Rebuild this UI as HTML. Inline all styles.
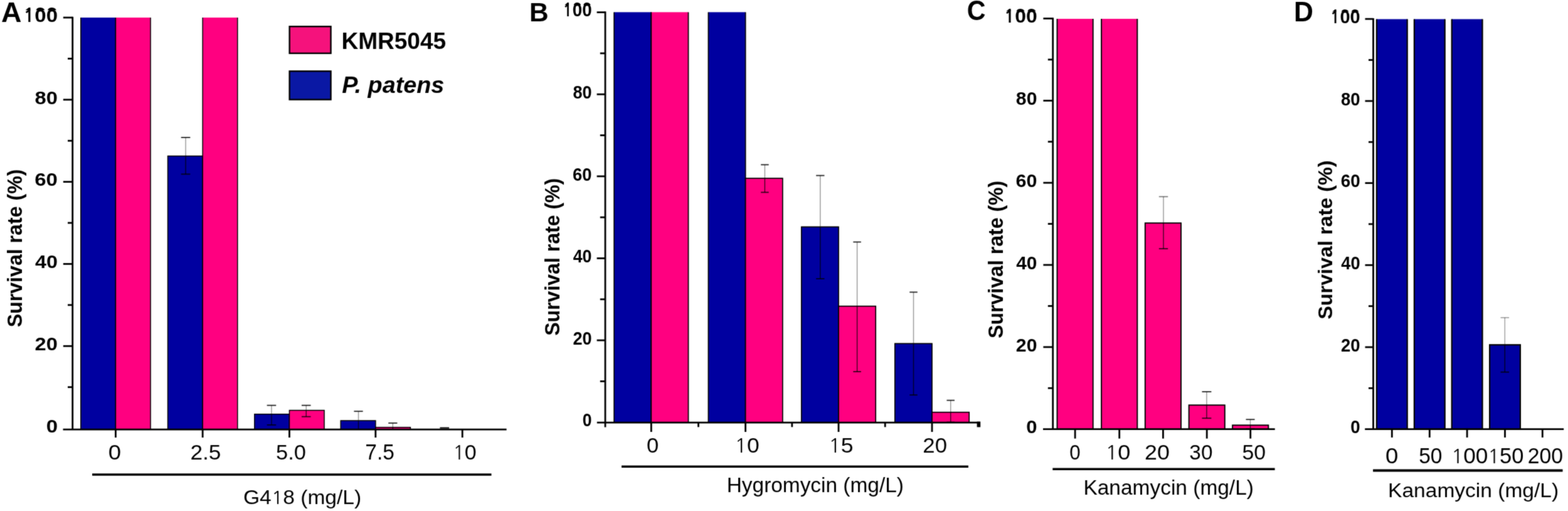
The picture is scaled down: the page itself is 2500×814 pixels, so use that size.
<!DOCTYPE html>
<html><head><meta charset="utf-8"><title>Survival rate bar charts</title>
<style>html,body{margin:0;padding:0;background:#fff;} svg{display:block;} text{font-family:"Liberation Sans",Arial,sans-serif;fill:#000;}</style>
</head><body>
<svg width="2500" height="814" viewBox="0 0 2500 814">
<defs><filter id="soft" x="0" y="0" width="2500" height="814" filterUnits="userSpaceOnUse" color-interpolation-filters="sRGB"><feConvolveMatrix order="3" kernelMatrix="0.03 0.1 0.03 0.1 0.48 0.1 0.03 0.1 0.03" divisor="1" edgeMode="duplicate"/></filter></defs>
<rect x="0" y="0" width="2500" height="814" fill="#fff"/>
<g filter="url(#soft)">
<rect x="0" y="0" width="2500" height="814" fill="#fff"/>
<rect x="128.80" y="28.00" width="55.60" height="656.20" fill="#0000a0"/>
<path d="M128.80 28.00V684.20H184.40V28.00" fill="none" stroke="#000" stroke-width="1.5"/>
<rect x="184.40" y="28.00" width="55.60" height="656.20" fill="#ff0080"/>
<path d="M184.40 28.00V684.20H240.00V28.00" fill="none" stroke="#000" stroke-width="1.5"/>
<rect x="267.50" y="248.50" width="55.60" height="435.70" fill="#0000a0" stroke="#000" stroke-width="1.5"/>
<rect x="323.10" y="28.00" width="55.60" height="656.20" fill="#ff0080"/>
<path d="M323.10 28.00V684.20H378.70V28.00" fill="none" stroke="#000" stroke-width="1.5"/>
<rect x="405.80" y="659.70" width="55.60" height="24.50" fill="#0000a0" stroke="#000" stroke-width="1.5"/>
<rect x="461.40" y="653.60" width="55.60" height="30.60" fill="#ff0080" stroke="#000" stroke-width="1.5"/>
<rect x="543.20" y="670.00" width="55.60" height="14.20" fill="#0000a0" stroke="#000" stroke-width="1.5"/>
<rect x="598.80" y="680.70" width="55.60" height="3.50" fill="#ff0080" stroke="#000" stroke-width="1.5"/>
<line x1="115.70" y1="26.70" x2="115.70" y2="684.20" stroke="#000" stroke-width="2.8" stroke-linecap="butt"/>
<line x1="108.00" y1="616.69" x2="115.70" y2="616.69" stroke="#000" stroke-width="2.8" stroke-linecap="butt"/>
<line x1="100.80" y1="551.28" x2="115.70" y2="551.28" stroke="#000" stroke-width="2.8" stroke-linecap="butt"/>
<line x1="108.00" y1="485.87" x2="115.70" y2="485.87" stroke="#000" stroke-width="2.8" stroke-linecap="butt"/>
<line x1="100.80" y1="420.46" x2="115.70" y2="420.46" stroke="#000" stroke-width="2.8" stroke-linecap="butt"/>
<line x1="108.00" y1="355.05" x2="115.70" y2="355.05" stroke="#000" stroke-width="2.8" stroke-linecap="butt"/>
<line x1="100.80" y1="289.64" x2="115.70" y2="289.64" stroke="#000" stroke-width="2.8" stroke-linecap="butt"/>
<line x1="108.00" y1="224.23" x2="115.70" y2="224.23" stroke="#000" stroke-width="2.8" stroke-linecap="butt"/>
<line x1="100.80" y1="158.82" x2="115.70" y2="158.82" stroke="#000" stroke-width="2.8" stroke-linecap="butt"/>
<line x1="108.00" y1="93.41" x2="115.70" y2="93.41" stroke="#000" stroke-width="2.8" stroke-linecap="butt"/>
<line x1="100.80" y1="28.00" x2="115.70" y2="28.00" stroke="#000" stroke-width="2.8" stroke-linecap="butt"/>
<line x1="100.50" y1="684.20" x2="807.60" y2="684.20" stroke="#000" stroke-width="2.8" stroke-linecap="butt"/>
<line x1="184.40" y1="684.20" x2="184.40" y2="697.00" stroke="#000" stroke-width="2.8" stroke-linecap="butt"/>
<line x1="323.10" y1="684.20" x2="323.10" y2="697.00" stroke="#000" stroke-width="2.8" stroke-linecap="butt"/>
<line x1="461.40" y1="684.20" x2="461.40" y2="697.00" stroke="#000" stroke-width="2.8" stroke-linecap="butt"/>
<line x1="598.80" y1="684.20" x2="598.80" y2="697.00" stroke="#000" stroke-width="2.8" stroke-linecap="butt"/>
<line x1="737.20" y1="684.20" x2="737.20" y2="697.00" stroke="#000" stroke-width="2.8" stroke-linecap="butt"/>
<line x1="296.00" y1="219.00" x2="296.00" y2="248.50" stroke="#000" stroke-width="1.4" stroke-linecap="butt" stroke-opacity="0.42"/>
<line x1="296.00" y1="248.50" x2="296.00" y2="277.40" stroke="#000" stroke-width="1.4" stroke-linecap="butt" stroke-opacity="0.75"/>
<line x1="288.70" y1="219.00" x2="303.30" y2="219.00" stroke="#000" stroke-width="1.8" stroke-linecap="butt" stroke-opacity="0.85"/>
<line x1="288.70" y1="277.40" x2="303.30" y2="277.40" stroke="#000" stroke-width="1.8" stroke-linecap="butt" stroke-opacity="0.8"/>
<line x1="432.90" y1="645.70" x2="432.90" y2="659.70" stroke="#000" stroke-width="1.4" stroke-linecap="butt" stroke-opacity="0.42"/>
<line x1="432.90" y1="659.70" x2="432.90" y2="676.90" stroke="#000" stroke-width="1.4" stroke-linecap="butt" stroke-opacity="0.75"/>
<line x1="425.60" y1="645.70" x2="440.20" y2="645.70" stroke="#000" stroke-width="1.8" stroke-linecap="butt" stroke-opacity="0.85"/>
<line x1="425.60" y1="676.90" x2="440.20" y2="676.90" stroke="#000" stroke-width="1.8" stroke-linecap="butt" stroke-opacity="0.8"/>
<line x1="488.20" y1="645.70" x2="488.20" y2="653.60" stroke="#000" stroke-width="1.4" stroke-linecap="butt" stroke-opacity="0.42"/>
<line x1="488.20" y1="653.60" x2="488.20" y2="663.70" stroke="#000" stroke-width="1.4" stroke-linecap="butt" stroke-opacity="0.75"/>
<line x1="480.90" y1="645.70" x2="495.50" y2="645.70" stroke="#000" stroke-width="1.8" stroke-linecap="butt" stroke-opacity="0.85"/>
<line x1="480.90" y1="663.70" x2="495.50" y2="663.70" stroke="#000" stroke-width="1.8" stroke-linecap="butt" stroke-opacity="0.8"/>
<line x1="571.50" y1="655.20" x2="571.50" y2="670.00" stroke="#000" stroke-width="1.4" stroke-linecap="butt" stroke-opacity="0.42"/>
<line x1="571.50" y1="670.00" x2="571.50" y2="684.00" stroke="#000" stroke-width="1.4" stroke-linecap="butt" stroke-opacity="0.75"/>
<line x1="564.40" y1="655.20" x2="578.60" y2="655.20" stroke="#000" stroke-width="1.8" stroke-linecap="butt" stroke-opacity="0.85"/>
<line x1="564.40" y1="684.00" x2="578.60" y2="684.00" stroke="#000" stroke-width="1.8" stroke-linecap="butt" stroke-opacity="0.8"/>
<line x1="626.30" y1="673.90" x2="626.30" y2="680.70" stroke="#000" stroke-width="1.4" stroke-linecap="butt" stroke-opacity="0.42"/>
<line x1="626.30" y1="680.70" x2="626.30" y2="684.00" stroke="#000" stroke-width="1.4" stroke-linecap="butt" stroke-opacity="0.75"/>
<line x1="619.20" y1="673.90" x2="633.40" y2="673.90" stroke="#000" stroke-width="1.8" stroke-linecap="butt" stroke-opacity="0.85"/>
<line x1="619.20" y1="684.00" x2="633.40" y2="684.00" stroke="#000" stroke-width="1.8" stroke-linecap="butt" stroke-opacity="0.8"/>
<line x1="701.40" y1="681.60" x2="716.10" y2="681.60" stroke="#000" stroke-width="2.0" stroke-linecap="butt"/>
<rect x="461.60" y="42.20" width="65.90" height="42.70" fill="#f5127c" stroke="#000" stroke-width="2.4"/>
<rect x="461.60" y="113.40" width="65.90" height="45.20" fill="#0a18a4" stroke="#000" stroke-width="2.4"/>
<line x1="147.00" y1="756.00" x2="783.50" y2="756.00" stroke="#000" stroke-width="3.6" stroke-linecap="butt"/>
<rect x="979.10" y="19.40" width="59.20" height="653.70" fill="#0000a0"/>
<path d="M979.10 19.40V673.10H1038.30V19.40" fill="none" stroke="#000" stroke-width="1.7"/>
<rect x="1038.30" y="19.40" width="59.20" height="653.70" fill="#ff0080"/>
<path d="M1038.30 19.40V673.10H1097.50V19.40" fill="none" stroke="#000" stroke-width="1.7"/>
<rect x="1129.40" y="19.40" width="59.20" height="653.70" fill="#0000a0"/>
<path d="M1129.40 19.40V673.10H1188.60V19.40" fill="none" stroke="#000" stroke-width="1.7"/>
<rect x="1188.60" y="284.00" width="59.20" height="389.10" fill="#ff0080" stroke="#000" stroke-width="1.7"/>
<rect x="1277.80" y="361.40" width="59.20" height="311.70" fill="#0000a0" stroke="#000" stroke-width="1.7"/>
<rect x="1337.00" y="487.70" width="59.20" height="185.40" fill="#ff0080" stroke="#000" stroke-width="1.7"/>
<rect x="1426.80" y="547.30" width="59.20" height="125.80" fill="#0000a0" stroke="#000" stroke-width="1.7"/>
<rect x="1486.00" y="656.70" width="59.20" height="16.40" fill="#ff0080" stroke="#000" stroke-width="1.7"/>
<line x1="965.00" y1="18.30" x2="965.00" y2="680.60" stroke="#000" stroke-width="2.8" stroke-linecap="butt"/>
<line x1="956.80" y1="607.39" x2="965.00" y2="607.39" stroke="#000" stroke-width="2.8" stroke-linecap="butt"/>
<line x1="951.60" y1="542.08" x2="965.00" y2="542.08" stroke="#000" stroke-width="2.8" stroke-linecap="butt"/>
<line x1="956.80" y1="476.77" x2="965.00" y2="476.77" stroke="#000" stroke-width="2.8" stroke-linecap="butt"/>
<line x1="951.60" y1="411.46" x2="965.00" y2="411.46" stroke="#000" stroke-width="2.8" stroke-linecap="butt"/>
<line x1="956.80" y1="346.15" x2="965.00" y2="346.15" stroke="#000" stroke-width="2.8" stroke-linecap="butt"/>
<line x1="951.60" y1="280.84" x2="965.00" y2="280.84" stroke="#000" stroke-width="2.8" stroke-linecap="butt"/>
<line x1="956.80" y1="215.53" x2="965.00" y2="215.53" stroke="#000" stroke-width="2.8" stroke-linecap="butt"/>
<line x1="951.60" y1="150.22" x2="965.00" y2="150.22" stroke="#000" stroke-width="2.8" stroke-linecap="butt"/>
<line x1="956.80" y1="84.91" x2="965.00" y2="84.91" stroke="#000" stroke-width="2.8" stroke-linecap="butt"/>
<line x1="951.60" y1="19.60" x2="965.00" y2="19.60" stroke="#000" stroke-width="2.8" stroke-linecap="butt"/>
<line x1="951.80" y1="673.10" x2="1562.50" y2="673.10" stroke="#000" stroke-width="2.8" stroke-linecap="butt"/>
<line x1="1038.30" y1="673.10" x2="1038.30" y2="688.00" stroke="#000" stroke-width="2.8" stroke-linecap="butt"/>
<line x1="1188.60" y1="673.10" x2="1188.60" y2="688.00" stroke="#000" stroke-width="2.8" stroke-linecap="butt"/>
<line x1="1337.00" y1="673.10" x2="1337.00" y2="688.00" stroke="#000" stroke-width="2.8" stroke-linecap="butt"/>
<line x1="1486.00" y1="673.10" x2="1486.00" y2="688.00" stroke="#000" stroke-width="2.8" stroke-linecap="butt"/>
<line x1="1113.50" y1="673.10" x2="1113.50" y2="680.30" stroke="#000" stroke-width="2.8" stroke-linecap="butt"/>
<line x1="1262.80" y1="673.10" x2="1262.80" y2="680.30" stroke="#000" stroke-width="2.8" stroke-linecap="butt"/>
<line x1="1411.20" y1="673.10" x2="1411.20" y2="680.30" stroke="#000" stroke-width="2.8" stroke-linecap="butt"/>
<rect x="1557.6" y="671.6" width="5.6" height="8.8" fill="#000"/>
<line x1="1219.40" y1="262.40" x2="1219.40" y2="284.00" stroke="#000" stroke-width="1.4" stroke-linecap="butt" stroke-opacity="0.42"/>
<line x1="1219.40" y1="284.00" x2="1219.40" y2="306.40" stroke="#000" stroke-width="1.4" stroke-linecap="butt" stroke-opacity="0.75"/>
<line x1="1213.15" y1="262.40" x2="1225.65" y2="262.40" stroke="#000" stroke-width="1.8" stroke-linecap="butt" stroke-opacity="0.85"/>
<line x1="1213.15" y1="306.40" x2="1225.65" y2="306.40" stroke="#000" stroke-width="1.8" stroke-linecap="butt" stroke-opacity="0.8"/>
<line x1="1307.80" y1="279.60" x2="1307.80" y2="361.40" stroke="#000" stroke-width="1.4" stroke-linecap="butt" stroke-opacity="0.42"/>
<line x1="1307.80" y1="361.40" x2="1307.80" y2="444.00" stroke="#000" stroke-width="1.4" stroke-linecap="butt" stroke-opacity="0.75"/>
<line x1="1301.15" y1="279.60" x2="1314.45" y2="279.60" stroke="#000" stroke-width="1.8" stroke-linecap="butt" stroke-opacity="0.85"/>
<line x1="1301.15" y1="444.00" x2="1314.45" y2="444.00" stroke="#000" stroke-width="1.8" stroke-linecap="butt" stroke-opacity="0.8"/>
<line x1="1366.60" y1="385.50" x2="1366.60" y2="487.70" stroke="#000" stroke-width="1.4" stroke-linecap="butt" stroke-opacity="0.42"/>
<line x1="1366.60" y1="487.70" x2="1366.60" y2="592.00" stroke="#000" stroke-width="1.4" stroke-linecap="butt" stroke-opacity="0.75"/>
<line x1="1360.35" y1="385.50" x2="1372.85" y2="385.50" stroke="#000" stroke-width="1.8" stroke-linecap="butt" stroke-opacity="0.85"/>
<line x1="1360.35" y1="592.00" x2="1372.85" y2="592.00" stroke="#000" stroke-width="1.8" stroke-linecap="butt" stroke-opacity="0.8"/>
<line x1="1456.50" y1="465.40" x2="1456.50" y2="547.30" stroke="#000" stroke-width="1.4" stroke-linecap="butt" stroke-opacity="0.42"/>
<line x1="1456.50" y1="547.30" x2="1456.50" y2="629.20" stroke="#000" stroke-width="1.4" stroke-linecap="butt" stroke-opacity="0.75"/>
<line x1="1450.25" y1="465.40" x2="1462.75" y2="465.40" stroke="#000" stroke-width="1.8" stroke-linecap="butt" stroke-opacity="0.85"/>
<line x1="1450.25" y1="629.20" x2="1462.75" y2="629.20" stroke="#000" stroke-width="1.8" stroke-linecap="butt" stroke-opacity="0.8"/>
<line x1="1515.70" y1="637.70" x2="1515.70" y2="656.70" stroke="#000" stroke-width="1.4" stroke-linecap="butt" stroke-opacity="0.42"/>
<line x1="1515.70" y1="656.70" x2="1515.70" y2="672.50" stroke="#000" stroke-width="1.4" stroke-linecap="butt" stroke-opacity="0.75"/>
<line x1="1509.45" y1="637.70" x2="1521.95" y2="637.70" stroke="#000" stroke-width="1.8" stroke-linecap="butt" stroke-opacity="0.85"/>
<line x1="1509.45" y1="672.50" x2="1521.95" y2="672.50" stroke="#000" stroke-width="1.8" stroke-linecap="butt" stroke-opacity="0.8"/>
<line x1="991.00" y1="743.20" x2="1543.90" y2="743.20" stroke="#000" stroke-width="3.6" stroke-linecap="butt"/>
<rect x="1685.50" y="30.00" width="57.20" height="653.70" fill="#ff0080"/>
<path d="M1685.50 30.00V683.70H1742.70V30.00" fill="none" stroke="#000" stroke-width="1.9"/>
<rect x="1756.10" y="30.00" width="57.20" height="653.70" fill="#ff0080"/>
<path d="M1756.10 30.00V683.70H1813.30V30.00" fill="none" stroke="#000" stroke-width="1.9"/>
<rect x="1825.80" y="355.30" width="57.20" height="328.40" fill="#ff0080" stroke="#000" stroke-width="1.9"/>
<rect x="1895.60" y="645.30" width="57.20" height="38.40" fill="#ff0080" stroke="#000" stroke-width="1.9"/>
<rect x="1965.10" y="677.30" width="57.20" height="6.40" fill="#ff0080" stroke="#000" stroke-width="1.9"/>
<line x1="1678.70" y1="28.20" x2="1678.70" y2="683.70" stroke="#000" stroke-width="2.8" stroke-linecap="butt"/>
<line x1="1670.80" y1="618.28" x2="1678.70" y2="618.28" stroke="#000" stroke-width="2.8" stroke-linecap="butt"/>
<line x1="1663.40" y1="552.86" x2="1678.70" y2="552.86" stroke="#000" stroke-width="2.8" stroke-linecap="butt"/>
<line x1="1670.80" y1="487.44" x2="1678.70" y2="487.44" stroke="#000" stroke-width="2.8" stroke-linecap="butt"/>
<line x1="1663.40" y1="422.02" x2="1678.70" y2="422.02" stroke="#000" stroke-width="2.8" stroke-linecap="butt"/>
<line x1="1670.80" y1="356.60" x2="1678.70" y2="356.60" stroke="#000" stroke-width="2.8" stroke-linecap="butt"/>
<line x1="1663.40" y1="291.18" x2="1678.70" y2="291.18" stroke="#000" stroke-width="2.8" stroke-linecap="butt"/>
<line x1="1670.80" y1="225.76" x2="1678.70" y2="225.76" stroke="#000" stroke-width="2.8" stroke-linecap="butt"/>
<line x1="1663.40" y1="160.34" x2="1678.70" y2="160.34" stroke="#000" stroke-width="2.8" stroke-linecap="butt"/>
<line x1="1670.80" y1="94.92" x2="1678.70" y2="94.92" stroke="#000" stroke-width="2.8" stroke-linecap="butt"/>
<line x1="1663.40" y1="29.50" x2="1678.70" y2="29.50" stroke="#000" stroke-width="2.8" stroke-linecap="butt"/>
<line x1="1663.00" y1="683.70" x2="2032.70" y2="683.70" stroke="#000" stroke-width="2.8" stroke-linecap="butt"/>
<line x1="1714.10" y1="683.70" x2="1714.10" y2="698.60" stroke="#000" stroke-width="2.8" stroke-linecap="butt"/>
<line x1="1784.70" y1="683.70" x2="1784.70" y2="698.60" stroke="#000" stroke-width="2.8" stroke-linecap="butt"/>
<line x1="1854.40" y1="683.70" x2="1854.40" y2="698.60" stroke="#000" stroke-width="2.8" stroke-linecap="butt"/>
<line x1="1924.20" y1="683.70" x2="1924.20" y2="698.60" stroke="#000" stroke-width="2.8" stroke-linecap="butt"/>
<line x1="1993.70" y1="683.70" x2="1993.70" y2="698.60" stroke="#000" stroke-width="2.8" stroke-linecap="butt"/>
<line x1="1855.00" y1="313.30" x2="1855.00" y2="355.30" stroke="#000" stroke-width="1.4" stroke-linecap="butt" stroke-opacity="0.42"/>
<line x1="1855.00" y1="355.30" x2="1855.00" y2="396.20" stroke="#000" stroke-width="1.4" stroke-linecap="butt" stroke-opacity="0.75"/>
<line x1="1847.80" y1="313.30" x2="1862.20" y2="313.30" stroke="#000" stroke-width="1.8" stroke-linecap="butt" stroke-opacity="0.5"/>
<line x1="1847.80" y1="396.20" x2="1862.20" y2="396.20" stroke="#000" stroke-width="1.8" stroke-linecap="butt" stroke-opacity="0.8"/>
<line x1="1923.90" y1="624.00" x2="1923.90" y2="645.30" stroke="#000" stroke-width="1.4" stroke-linecap="butt" stroke-opacity="0.42"/>
<line x1="1923.90" y1="645.30" x2="1923.90" y2="666.20" stroke="#000" stroke-width="1.4" stroke-linecap="butt" stroke-opacity="0.75"/>
<line x1="1916.45" y1="624.00" x2="1931.35" y2="624.00" stroke="#000" stroke-width="1.8" stroke-linecap="butt" stroke-opacity="0.85"/>
<line x1="1916.45" y1="666.20" x2="1931.35" y2="666.20" stroke="#000" stroke-width="1.8" stroke-linecap="butt" stroke-opacity="0.8"/>
<line x1="1993.50" y1="668.20" x2="1993.50" y2="677.30" stroke="#000" stroke-width="1.4" stroke-linecap="butt" stroke-opacity="0.42"/>
<line x1="1993.50" y1="677.30" x2="1993.50" y2="683.00" stroke="#000" stroke-width="1.4" stroke-linecap="butt" stroke-opacity="0.75"/>
<line x1="1986.50" y1="668.20" x2="2000.50" y2="668.20" stroke="#000" stroke-width="1.8" stroke-linecap="butt" stroke-opacity="0.85"/>
<line x1="1986.50" y1="683.00" x2="2000.50" y2="683.00" stroke="#000" stroke-width="1.8" stroke-linecap="butt" stroke-opacity="0.8"/>
<line x1="1678.30" y1="747.20" x2="2032.60" y2="747.20" stroke="#000" stroke-width="3.6" stroke-linecap="butt"/>
<rect x="2194.90" y="30.50" width="48.80" height="653.20" fill="#0000a0"/>
<path d="M2194.90 30.50V683.70H2243.70V30.50" fill="none" stroke="#000" stroke-width="2.2"/>
<rect x="2254.90" y="30.50" width="48.80" height="653.20" fill="#0000a0"/>
<path d="M2254.90 30.50V683.70H2303.70V30.50" fill="none" stroke="#000" stroke-width="2.2"/>
<rect x="2314.70" y="30.50" width="48.80" height="653.20" fill="#0000a0"/>
<path d="M2314.70 30.50V683.70H2363.50V30.50" fill="none" stroke="#000" stroke-width="2.2"/>
<rect x="2375.10" y="549.30" width="48.80" height="134.40" fill="#0000a0" stroke="#000" stroke-width="2.2"/>
<line x1="2189.50" y1="28.90" x2="2189.50" y2="683.70" stroke="#000" stroke-width="2.8" stroke-linecap="butt"/>
<line x1="2182.00" y1="618.35" x2="2189.50" y2="618.35" stroke="#000" stroke-width="2.8" stroke-linecap="butt"/>
<line x1="2176.50" y1="553.00" x2="2189.50" y2="553.00" stroke="#000" stroke-width="2.8" stroke-linecap="butt"/>
<line x1="2182.00" y1="487.65" x2="2189.50" y2="487.65" stroke="#000" stroke-width="2.8" stroke-linecap="butt"/>
<line x1="2176.50" y1="422.30" x2="2189.50" y2="422.30" stroke="#000" stroke-width="2.8" stroke-linecap="butt"/>
<line x1="2182.00" y1="356.95" x2="2189.50" y2="356.95" stroke="#000" stroke-width="2.8" stroke-linecap="butt"/>
<line x1="2176.50" y1="291.60" x2="2189.50" y2="291.60" stroke="#000" stroke-width="2.8" stroke-linecap="butt"/>
<line x1="2182.00" y1="226.25" x2="2189.50" y2="226.25" stroke="#000" stroke-width="2.8" stroke-linecap="butt"/>
<line x1="2176.50" y1="160.90" x2="2189.50" y2="160.90" stroke="#000" stroke-width="2.8" stroke-linecap="butt"/>
<line x1="2182.00" y1="95.55" x2="2189.50" y2="95.55" stroke="#000" stroke-width="2.8" stroke-linecap="butt"/>
<line x1="2176.50" y1="30.20" x2="2189.50" y2="30.20" stroke="#000" stroke-width="2.8" stroke-linecap="butt"/>
<line x1="2176.20" y1="683.70" x2="2493.20" y2="683.70" stroke="#000" stroke-width="2.8" stroke-linecap="butt"/>
<line x1="2219.30" y1="683.70" x2="2219.30" y2="696.90" stroke="#000" stroke-width="2.8" stroke-linecap="butt"/>
<line x1="2279.30" y1="683.70" x2="2279.30" y2="696.90" stroke="#000" stroke-width="2.8" stroke-linecap="butt"/>
<line x1="2339.10" y1="683.70" x2="2339.10" y2="696.90" stroke="#000" stroke-width="2.8" stroke-linecap="butt"/>
<line x1="2399.50" y1="683.70" x2="2399.50" y2="696.90" stroke="#000" stroke-width="2.8" stroke-linecap="butt"/>
<line x1="2459.30" y1="683.70" x2="2459.30" y2="696.90" stroke="#000" stroke-width="2.8" stroke-linecap="butt"/>
<line x1="2399.30" y1="506.00" x2="2399.30" y2="549.30" stroke="#000" stroke-width="1.4" stroke-linecap="butt" stroke-opacity="0.38"/>
<line x1="2399.30" y1="549.30" x2="2399.30" y2="592.70" stroke="#000" stroke-width="1.4" stroke-linecap="butt" stroke-opacity="0.75"/>
<line x1="2392.50" y1="506.00" x2="2406.10" y2="506.00" stroke="#000" stroke-width="1.8" stroke-linecap="butt" stroke-opacity="0.35"/>
<line x1="2392.50" y1="592.70" x2="2406.10" y2="592.70" stroke="#000" stroke-width="1.8" stroke-linecap="butt" stroke-opacity="0.8"/>
<line x1="2189.10" y1="749.40" x2="2491.50" y2="749.40" stroke="#000" stroke-width="4.0" stroke-linecap="butt"/>
<defs><clipPath id="nub9"><rect x="39.00" y="8.75" width="53.50" height="7.60"/></clipPath><clipPath id="nub15"><rect x="898.70" y="0.35" width="45.70" height="7.60"/></clipPath><clipPath id="nub21"><rect x="1602.30" y="10.25" width="51.90" height="7.60"/></clipPath><clipPath id="nub27"><rect x="2121.90" y="10.95" width="47.50" height="7.60"/></clipPath></defs>
<text x="2.05" y="35.45" font-size="44.56" textLength="32.39" lengthAdjust="spacingAndGlyphs" font-weight="bold">A</text>
<text x="844.04" y="33.90" font-size="42.75" textLength="30.54" lengthAdjust="spacingAndGlyphs" font-weight="bold">B</text>
<text x="1541.65" y="31.96" font-size="43.52" textLength="29.78" lengthAdjust="spacingAndGlyphs" font-weight="bold">C</text>
<text x="2062.90" y="33.90" font-size="43.77" textLength="30.90" lengthAdjust="spacingAndGlyphs" font-weight="bold">D</text>
<text x="73.68" y="688.86" font-size="28.59" textLength="18.34" lengthAdjust="spacingAndGlyphs" font-weight="bold">0</text>
<text x="55.62" y="558.04" font-size="28.59" textLength="36.26" lengthAdjust="spacingAndGlyphs" font-weight="bold">20</text>
<text x="55.95" y="427.22" font-size="28.59" textLength="35.91" lengthAdjust="spacingAndGlyphs" font-weight="bold">40</text>
<text x="55.28" y="296.40" font-size="28.59" textLength="36.61" lengthAdjust="spacingAndGlyphs" font-weight="bold">60</text>
<text x="55.62" y="165.58" font-size="28.59" textLength="36.26" lengthAdjust="spacingAndGlyphs" font-weight="bold">80</text>
<text x="37.04" y="34.76" font-size="28.59" textLength="54.99" lengthAdjust="spacingAndGlyphs" font-weight="bold"><tspan font-family="NanumGothic, 'Liberation Sans', sans-serif" font-size="26.13">1</tspan>00</text>
<g clip-path="url(#nub9)"><text x="37.04" y="32.46" font-size="28.59" textLength="54.99" lengthAdjust="spacingAndGlyphs" font-weight="bold"><tspan font-family="NanumGothic, 'Liberation Sans', sans-serif" font-size="26.13">1</tspan>00</text></g>
<text x="928.84" y="679.46" font-size="28.59" textLength="14.79" lengthAdjust="spacingAndGlyphs" font-weight="bold">0</text>
<text x="913.39" y="548.84" font-size="28.59" textLength="30.16" lengthAdjust="spacingAndGlyphs" font-weight="bold">20</text>
<text x="913.66" y="418.22" font-size="28.59" textLength="29.87" lengthAdjust="spacingAndGlyphs" font-weight="bold">40</text>
<text x="913.10" y="287.60" font-size="28.59" textLength="30.45" lengthAdjust="spacingAndGlyphs" font-weight="bold">60</text>
<text x="913.39" y="156.98" font-size="28.59" textLength="30.16" lengthAdjust="spacingAndGlyphs" font-weight="bold">80</text>
<text x="897.36" y="26.36" font-size="28.59" textLength="46.32" lengthAdjust="spacingAndGlyphs" font-weight="bold"><tspan font-family="NanumGothic, 'Liberation Sans', sans-serif" font-size="26.13">1</tspan>00</text>
<g clip-path="url(#nub15)"><text x="897.36" y="24.06" font-size="28.59" textLength="46.32" lengthAdjust="spacingAndGlyphs" font-weight="bold"><tspan font-family="NanumGothic, 'Liberation Sans', sans-serif" font-size="26.13">1</tspan>00</text></g>
<text x="1636.36" y="690.46" font-size="28.59" textLength="17.28" lengthAdjust="spacingAndGlyphs" font-weight="bold">0</text>
<text x="1619.89" y="559.62" font-size="28.59" textLength="33.58" lengthAdjust="spacingAndGlyphs" font-weight="bold">20</text>
<text x="1620.20" y="428.78" font-size="28.59" textLength="33.26" lengthAdjust="spacingAndGlyphs" font-weight="bold">40</text>
<text x="1619.58" y="297.94" font-size="28.59" textLength="33.91" lengthAdjust="spacingAndGlyphs" font-weight="bold">60</text>
<text x="1619.89" y="167.10" font-size="28.59" textLength="33.58" lengthAdjust="spacingAndGlyphs" font-weight="bold">80</text>
<text x="1600.47" y="36.26" font-size="28.59" textLength="53.21" lengthAdjust="spacingAndGlyphs" font-weight="bold"><tspan font-family="NanumGothic, 'Liberation Sans', sans-serif" font-size="26.13">1</tspan>00</text>
<g clip-path="url(#nub21)"><text x="1600.47" y="33.96" font-size="28.59" textLength="53.21" lengthAdjust="spacingAndGlyphs" font-weight="bold"><tspan font-family="NanumGothic, 'Liberation Sans', sans-serif" font-size="26.13">1</tspan>00</text></g>
<text x="2153.29" y="690.46" font-size="28.59" textLength="15.39" lengthAdjust="spacingAndGlyphs" font-weight="bold">0</text>
<text x="2137.98" y="559.76" font-size="28.59" textLength="30.59" lengthAdjust="spacingAndGlyphs" font-weight="bold">20</text>
<text x="2138.26" y="429.06" font-size="28.59" textLength="30.30" lengthAdjust="spacingAndGlyphs" font-weight="bold">40</text>
<text x="2137.69" y="298.36" font-size="28.59" textLength="30.89" lengthAdjust="spacingAndGlyphs" font-weight="bold">60</text>
<text x="2137.98" y="167.66" font-size="28.59" textLength="30.59" lengthAdjust="spacingAndGlyphs" font-weight="bold">80</text>
<text x="2120.42" y="36.96" font-size="28.59" textLength="48.32" lengthAdjust="spacingAndGlyphs" font-weight="bold"><tspan font-family="NanumGothic, 'Liberation Sans', sans-serif" font-size="26.13">1</tspan>00</text>
<g clip-path="url(#nub27)"><text x="2120.42" y="34.66" font-size="28.59" textLength="48.32" lengthAdjust="spacingAndGlyphs" font-weight="bold"><tspan font-family="NanumGothic, 'Liberation Sans', sans-serif" font-size="26.13">1</tspan>00</text></g>
<text x="34.96" y="521.36" transform="rotate(-90 34.96 521.36)" font-size="33.51" textLength="251.86" lengthAdjust="spacingAndGlyphs" font-weight="bold">Survival rate (%)</text>
<text x="891.80" y="534.86" transform="rotate(-90 891.80 534.86)" font-size="32.87" textLength="251.15" lengthAdjust="spacingAndGlyphs" font-weight="bold">Survival rate (%)</text>
<text x="1598.87" y="538.96" transform="rotate(-90 1598.87 538.96)" font-size="32.98" textLength="251.25" lengthAdjust="spacingAndGlyphs" font-weight="bold">Survival rate (%)</text>
<text x="2123.61" y="508.77" transform="rotate(-90 2123.61 508.77)" font-size="30.43" textLength="253.38" lengthAdjust="spacingAndGlyphs" font-weight="bold">Survival rate (%)</text>
<text x="172.74" y="732.06" font-size="33.94" textLength="20.28" lengthAdjust="spacingAndGlyphs" font-weight="normal">0</text>
<text x="303.44" y="732.06" font-size="33.94" textLength="48.87" lengthAdjust="spacingAndGlyphs" font-weight="normal">2.5</text>
<text x="440.13" y="732.06" font-size="33.94" textLength="47.75" lengthAdjust="spacingAndGlyphs" font-weight="normal">5.0</text>
<text x="582.33" y="732.06" font-size="34.43" textLength="46.41" lengthAdjust="spacingAndGlyphs" font-weight="normal">7.5</text>
<text x="721.97" y="732.06" font-size="33.94" textLength="37.79" lengthAdjust="spacingAndGlyphs" font-weight="normal"><tspan font-family="NanumGothic, 'Liberation Sans', sans-serif" font-size="31.02">1</tspan>0</text>
<text x="1031.02" y="720.68" font-size="32.39" textLength="19.24" lengthAdjust="spacingAndGlyphs" font-weight="normal">0</text>
<text x="1171.28" y="720.68" font-size="32.39" textLength="39.45" lengthAdjust="spacingAndGlyphs" font-weight="normal"><tspan font-family="NanumGothic, 'Liberation Sans', sans-serif" font-size="29.61">1</tspan>0</text>
<text x="1321.08" y="720.67" font-size="32.86" textLength="39.45" lengthAdjust="spacingAndGlyphs" font-weight="normal"><tspan font-family="NanumGothic, 'Liberation Sans', sans-serif" font-size="30.03">1</tspan>5</text>
<text x="1471.36" y="720.68" font-size="32.39" textLength="38.60" lengthAdjust="spacingAndGlyphs" font-weight="normal">20</text>
<text x="1705.25" y="731.57" font-size="33.24" textLength="17.38" lengthAdjust="spacingAndGlyphs" font-weight="normal">0</text>
<text x="1762.30" y="731.57" font-size="33.24" textLength="40.15" lengthAdjust="spacingAndGlyphs" font-weight="normal"><tspan font-family="NanumGothic, 'Liberation Sans', sans-serif" font-size="30.38">1</tspan>0</text>
<text x="1825.11" y="731.57" font-size="33.24" textLength="39.80" lengthAdjust="spacingAndGlyphs" font-weight="normal">20</text>
<text x="1896.37" y="731.57" font-size="33.24" textLength="37.04" lengthAdjust="spacingAndGlyphs" font-weight="normal">30</text>
<text x="1980.45" y="731.57" font-size="33.24" textLength="37.58" lengthAdjust="spacingAndGlyphs" font-weight="normal">50</text>
<text x="2209.04" y="738.36" font-size="34.23" textLength="20.28" lengthAdjust="spacingAndGlyphs" font-weight="normal">0</text>
<text x="2262.16" y="738.36" font-size="34.23" textLength="37.26" lengthAdjust="spacingAndGlyphs" font-weight="normal">50</text>
<text x="2313.72" y="738.36" font-size="34.23" textLength="58.65" lengthAdjust="spacingAndGlyphs" font-weight="normal"><tspan font-family="NanumGothic, 'Liberation Sans', sans-serif" font-size="31.28">1</tspan>00</text>
<text x="2372.02" y="738.36" font-size="34.23" textLength="57.43" lengthAdjust="spacingAndGlyphs" font-weight="normal"><tspan font-family="NanumGothic, 'Liberation Sans', sans-serif" font-size="31.28">1</tspan>50</text>
<text x="2435.71" y="738.36" font-size="34.23" textLength="56.29" lengthAdjust="spacingAndGlyphs" font-weight="normal">200</text>
<text x="388.02" y="802.95" font-size="32.13" textLength="188.03" lengthAdjust="spacingAndGlyphs" font-weight="normal">G4<tspan font-family="NanumGothic, 'Liberation Sans', sans-serif" font-size="29.36">1</tspan>8 (mg/L)</text>
<text x="1158.73" y="783.77" font-size="32.98" textLength="282.18" lengthAdjust="spacingAndGlyphs" font-weight="normal">Hygromycin (mg/L)</text>
<text x="1727.42" y="788.07" font-size="32.98" textLength="271.52" lengthAdjust="spacingAndGlyphs" font-weight="normal">Kanamycin (mg/L)</text>
<text x="2213.12" y="792.18" font-size="32.02" textLength="272.02" lengthAdjust="spacingAndGlyphs" font-weight="normal">Kanamycin (mg/L)</text>
<text x="544.41" y="78.03" font-size="36.62" textLength="166.78" lengthAdjust="spacingAndGlyphs" font-weight="bold">KMR5045</text>
<text x="545.24" y="147.76" font-size="37.33" textLength="163.16" lengthAdjust="spacingAndGlyphs" font-weight="bold" font-style="italic">P. patens</text>
</g>
</svg>
</body></html>
